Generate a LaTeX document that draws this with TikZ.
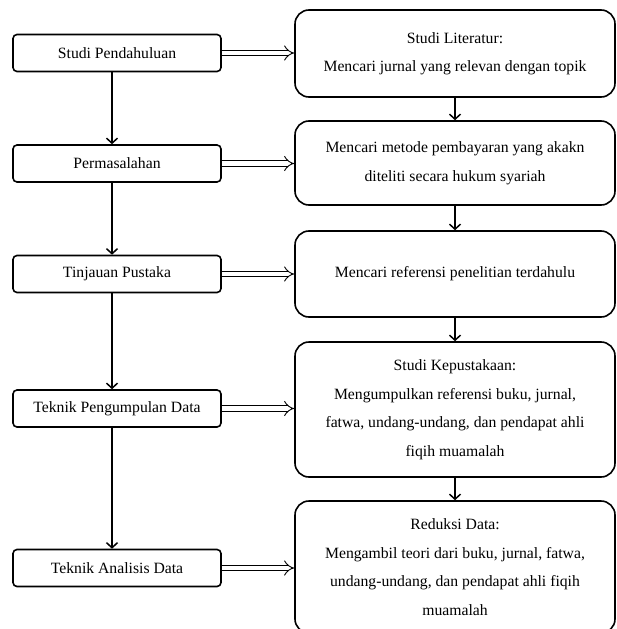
\documentclass[tikz,border=0pt]{standalone}
\usepackage{fontspec}
\setmainfont{Liberation Serif}
\usetikzlibrary{arrows.meta}
\begin{document}
\begin{tikzpicture}[x=1pt,y=-1pt,
  lbox/.style={draw, line width=1.6pt, rounded corners=4pt, minimum width=208pt, minimum height=37pt, inner sep=0pt, font=\fontsize{15.7}{18}\selectfont},
  rbox/.style={draw, line width=1.6pt, rounded corners=14pt, minimum width=320pt, inner sep=0pt, align=center, font=\fontsize{15.7}{28.5}\selectfont},
  vline/.style={line width=1.5pt, -{Straight Barb[length=5pt,width=11pt,line width=1.5pt]}},
  dbl/.style={double, double distance=4.5pt, line width=0.9pt, -{Implies[length=5pt]}}]
\useasboundingbox (0,0) rectangle (617,629);
\clip (0,0) rectangle (617,629);
% left column
\node[lbox] (l1) at (117,53) {Studi Pendahuluan};
\node[lbox] (l2) at (117,163.5) {Permasalahan};
\node[lbox] (l3) at (117,274) {Tinjauan Pustaka};
\node[lbox] (l4) at (117,408.5) {Teknik Pengumpulan Data};
\node[lbox] (l5) at (117,568) {Teknik Analisis Data};
% right column
\node[rbox, minimum height=87pt] (r1) at (455,53.5) {Studi Literatur:\\Mencari jurnal yang relevan dengan topik};
\node[rbox, minimum height=84pt] (r2) at (455,163) {Mencari metode pembayaran yang akakn\\diteliti secara hukum syariah};
\node[rbox, minimum height=86pt] (r3) at (455,274) {Mencari referensi penelitian terdahulu};
\node[rbox, minimum height=135pt] (r4) at (455,409.5) {Studi Kepustakaan:\\Mengumpulkan referensi buku, jurnal,\\fatwa, undang-undang, dan pendapat ahli\\fiqih muamalah};
\node[rbox, minimum height=132pt] (r5) at (455,567) {Reduksi Data:\\Mengambil teori dari buku, jurnal, fatwa,\\undang-undang, dan pendapat ahli fiqih\\muamalah};
% left vertical arrows
\foreach \a/\b in {l1/l2,l2/l3,l3/l4,l4/l5}
  \draw[vline] ([xshift=-5pt]\a.south) -- ([xshift=-5pt]\b.north);
% right vertical arrows
\foreach \a/\b in {r1/r2,r2/r3,r3/r4,r4/r5}
  \draw[vline] (\a.south) -- (\b.north);
% double arrows
\foreach \a/\b in {l1/r1,l2/r2,l3/r3,l4/r4,l5/r5}
  \draw[dbl] (\a.east) -- (\a.east -| \b.west);
\end{tikzpicture}
\end{document}
